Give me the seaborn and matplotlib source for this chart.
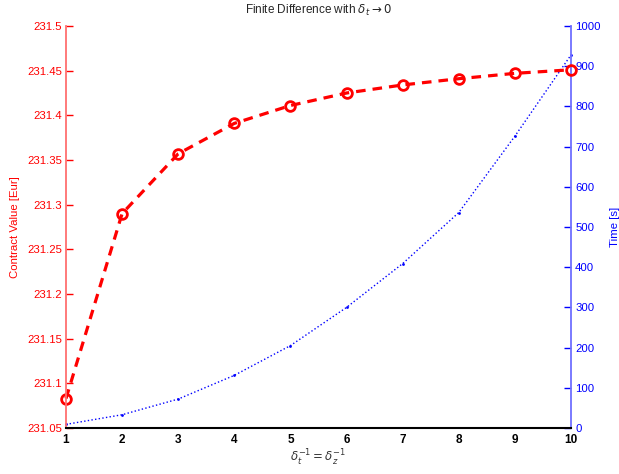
import matplotlib
matplotlib.use("Agg")
import matplotlib.pyplot as plt
import matplotlib.ticker as mticker
import seaborn as sns
import pandas as pd

steps = [1, 2, 3, 4, 5, 6, 7, 8, 9, 10]
contract_value = [231.083, 231.290, 231.357, 231.391, 231.411, 231.425, 231.434, 231.441, 231.447, 231.451]
time_s = [9, 33, 72, 131, 205, 300, 409, 536, 726, 928]

df = pd.DataFrame({"step": steps, "value": contract_value, "time": time_s})

sns.set_style("white")
plt.rcParams['font.family'] = ['Liberation Sans', 'DejaVu Sans']
plt.rcParams['mathtext.fontset'] = 'dejavusans'

fig = plt.figure(figsize=(6.19, 4.74), dpi=100)
ax = fig.add_axes([66/619, 1-428/474, (571-66)/619, (428-26)/474])
ax2 = ax.twinx()

sns.lineplot(data=df, x="step", y="time", ax=ax2, color="blue", linestyle=":",
             linewidth=1.0, marker="o", markersize=2, markeredgewidth=0,
             markerfacecolor="blue", clip_on=False)
sns.lineplot(data=df, x="step", y="value", ax=ax, color="red", linestyle="--",
             linewidth=2.3, marker="o", markersize=7, markerfacecolor="none",
             markeredgecolor="red", markeredgewidth=2, clip_on=False)
ax.lines[0].set_linestyle((0, (3, 2.2)))
ax.set_zorder(ax2.get_zorder() + 1)
ax.patch.set_visible(False)

ax.set_xlim(1, 10)
ax.set_ylim(231.05, 231.5)
ax2.set_ylim(0, 1000)
ax.set_xticks(steps)
ax.set_yticks([231.05 + 0.05*i for i in range(10)])
ax2.set_yticks(range(0, 1001, 100))
ax.yaxis.set_major_formatter(mticker.FuncFormatter(lambda v, p: "%g" % round(v, 2)))

for a in (ax, ax2):
    a.spines['top'].set_visible(False)
ax.spines['right'].set_visible(False)
ax2.spines['left'].set_visible(False)
ax2.spines['bottom'].set_visible(False)
ax.spines['left'].set_color('#ff7070')
ax.spines['left'].set_linewidth(1.3)
ax2.spines['right'].set_color('#7070ff')
ax2.spines['right'].set_linewidth(1.3)
ax.spines['bottom'].set_color('black')
ax.spines['bottom'].set_linewidth(1.5)

ax.tick_params(axis='x', direction='in', length=5, width=1, colors='black',
               labelsize=8.5, pad=4)
for lbl in ax.get_xticklabels():
    lbl.set_fontweight('bold')
ax.tick_params(axis='y', direction='in', length=5, width=1, colors='red',
               labelsize=8.2, pad=3)
ax2.tick_params(axis='y', direction='in', length=5, width=1, colors='blue',
                labelsize=8.2, pad=3)

ax.set_xlabel(r"$\delta_t^{-1} = \delta_z^{-1}$", fontsize=8.5, color='#333333', labelpad=2)
ax.set_ylabel("Contract Value [Eur]", fontsize=8.2, color='red', labelpad=5)
ax2.set_ylabel("Time [s]", fontsize=8.2, color='blue', labelpad=7)
ax.set_title(r"Finite Difference with $\delta_t \rightarrow 0$", fontsize=8.5, pad=9)

fig.savefig("out.png", dpi=100)
